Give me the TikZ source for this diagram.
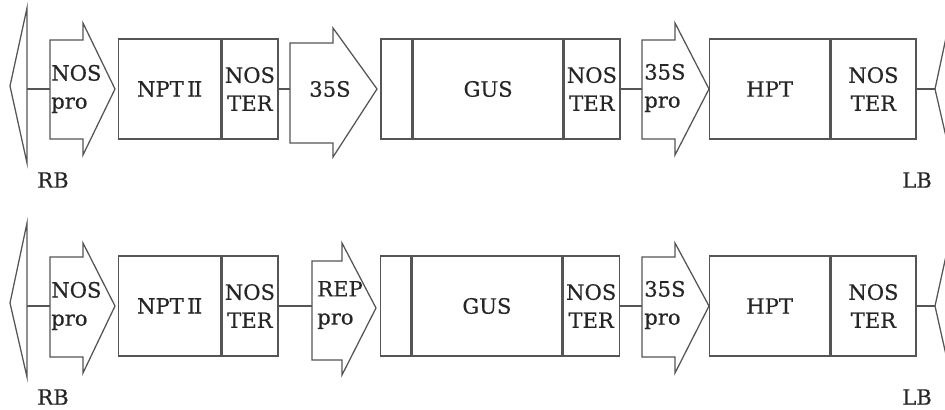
\documentclass[tikz,border=0pt]{standalone}
\usepackage{fontspec}
\setmainfont{DejaVu Serif}[FakeBold=0.5]
\definecolor{linegray}{HTML}{555555}
\definecolor{textgray}{HTML}{262626}

\begin{document}
\begin{tikzpicture}[x=0.025cm, y=-0.025cm,
    every node/.style={text=textgray, font=\fontsize{15}{20}\selectfont},
    box/.style={draw=linegray, line width=0.9pt, minimum height=2.5cm, inner sep=0pt, anchor=west, align=center},
    prom/.style={draw=linegray, line width=0.9pt},
    wire/.style={draw=linegray, line width=0.9pt},
    lbl/.style={inner sep=0pt, anchor=west, align=left}]
    \useasboundingbox (0,0) rectangle (945,409);
    \clip (0,0) rectangle (945,409);

    % Upper construct
    \draw[prom] (27,8) -- (10,86) -- (27,163) -- cycle;
    \coordinate (rbA) at (27,89);
    \draw[prom] (50,40) -- (83,40) -- (83,23) -- (115,89) -- (83,155) -- (83,139) -- (50,139) -- cycle;
    \coordinate (nosA) at (50,89);
    \node[lbl] (nosA-txt) at (51,89) {NOS\\pro};
    \node[box, minimum width=2.55cm] (nptA) at (118,89) {NPT\,I\kern-1.2pt I};
    \node[box, minimum width=1.4cm] (terA1) at (nptA.east) {NOS\\TER};
    \draw[prom] (290,43) -- (333,43) -- (333,28) -- (377,89) -- (333,157) -- (333,143) -- (290,143) -- cycle;
    \coordinate (s35A) at (290,89);
    \node (s35A-txt) at (330,89) {35S};
    \node[box, minimum width=0.775cm, line width=1.4pt] (leadA) at (380,89) {};
    \node[box, minimum width=3.725cm] (gusA) at (leadA.east) {GUS};
    \node[box, minimum width=1.4cm] (terA2) at (gusA.east) {NOS\\TER};
    \draw[prom] (642,40) -- (675,40) -- (675,23) -- (709,89) -- (675,155) -- (675,139) -- (642,139) -- cycle;
    \coordinate (proA) at (642,89);
    \node[lbl] (proA-txt) at (644,88) {35S\\pro};
    \node[box, minimum width=3cm] (hptA) at (709,89) {HPT};
    \node[box, minimum width=2.125cm] (terA3) at (hptA.east) {NOS\\TER};
    \draw[prom] (953,5) -- (935,89) -- (953,167) -- cycle;
    \coordinate (lbA) at (935,89);
    \node (rbA-txt) at (53,180) {RB};
    \node (lbA-txt) at (917,180) {LB};

    % Lower construct
    \draw[prom] (27,223) -- (10,303) -- (27,377) -- cycle;
    \coordinate (rbB) at (27,306);
    \draw[prom] (50,257) -- (83,257) -- (83,243) -- (115,306) -- (83,373) -- (83,357) -- (50,357) -- cycle;
    \coordinate (nosB) at (50,306);
    \node[lbl] (nosB-txt) at (51,306) {NOS\\pro};
    \node[box, minimum width=2.55cm] (nptB) at (118,306) {NPT\,I\kern-1.2pt I};
    \node[box, minimum width=1.4cm] (terB1) at (nptB.east) {NOS\\TER};
    \draw[prom] (312,261) -- (342,261) -- (342,243) -- (376,308) -- (342,375) -- (342,360) -- (312,360) -- cycle;
    \coordinate (repB) at (312,306);
    \node[lbl] (repB-txt) at (317,305) {REP\\pro};
    \node[box, minimum width=0.75cm] (leadB) at (380,306) {};
    \node[box, minimum width=3.75cm] (gusB) at (leadB.east) {GUS};
    \node[box, minimum width=1.4cm] (terB2) at (gusB.east) {NOS\\TER};
    \draw[prom] (642,257) -- (675,257) -- (675,243) -- (709,306) -- (675,373) -- (675,357) -- (642,357) -- cycle;
    \coordinate (proB) at (642,306);
    \node[lbl] (proB-txt) at (644,305) {35S\\pro};
    \node[box, minimum width=3cm] (hptB) at (709,306) {HPT};
    \node[box, minimum width=2.125cm] (terB3) at (hptB.east) {NOS\\TER};
    \draw[prom] (953,224) -- (935,306) -- (953,386) -- cycle;
    \coordinate (lbB) at (935,306);
    \node (rbB-txt) at (53,397) {RB};
    \node (lbB-txt) at (917,397) {LB};

    % Lines
    \draw[wire] (rbA) -- (nosA);
    \draw[wire] (terA1.east) -- (s35A);
    \draw[wire] (terA2.east) -- (proA);
    \draw[wire] (terA3.east) -- (lbA);

    \draw[wire] (rbB) -- (nosB);
    \draw[wire] (terB1.east) -- (repB);
    \draw[wire] (terB2.east) -- (proB);
    \draw[wire] (terB3.east) -- (lbB);
\end{tikzpicture}
\end{document}
